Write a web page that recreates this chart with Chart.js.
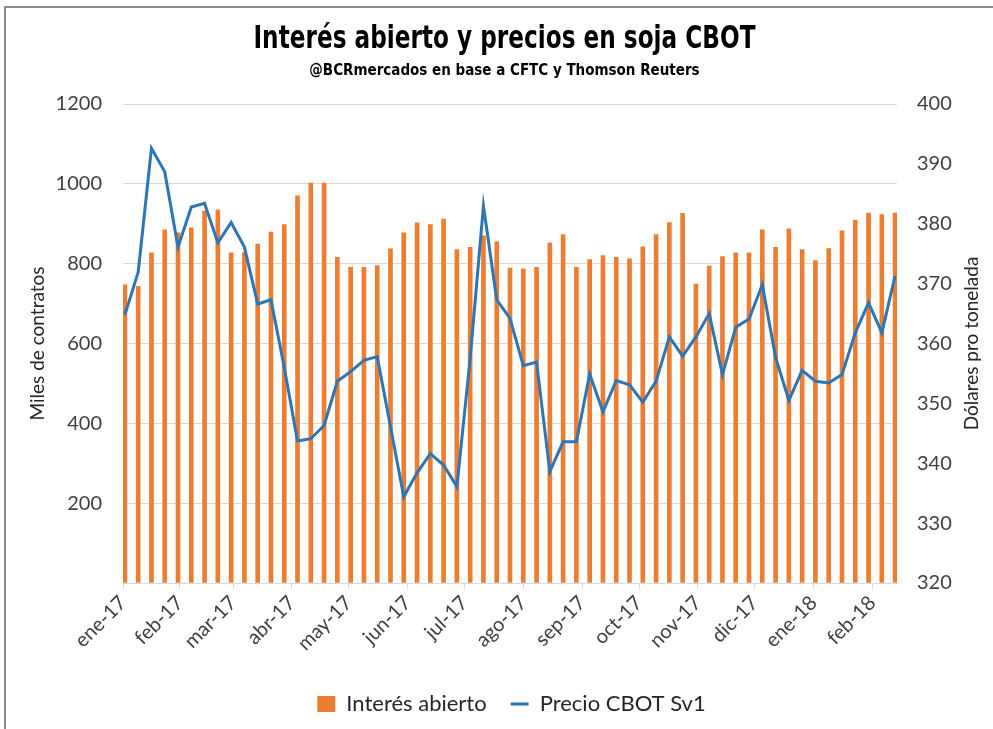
<!DOCTYPE html>
<html lang="es">
<head>
<meta charset="utf-8">
<title>Interés abierto y precios en soja CBOT</title>
<script src="https://cdn.jsdelivr.net/npm/chart.js@4.4.1/dist/chart.umd.min.js"></script>
<style>
  html, body { margin: 0; padding: 0; background: #fff; }
  #marco { position: relative; width: 993px; height: 729px; overflow: hidden; }
  #borde { position: absolute; left: 4px; top: 6px; right: -10px; bottom: -10px;
           border-left: 2px solid #8c8c8c; border-top: 2px solid #8c8c8c; pointer-events: none; }
  canvas { position: absolute; left: 0; top: 0; }
</style>
</head>
<body>
<div id="marco">
  <canvas id="grafico" width="993" height="729"></canvas>
  <div id="borde"></div>
</div>
<script>
// Fechas semanales (martes, informe CFTC)
const fechas = [
  '2017-01-03', '2017-01-10', '2017-01-17', '2017-01-24', '2017-01-31',
  '2017-02-07', '2017-02-14', '2017-02-21', '2017-02-28',
  '2017-03-07', '2017-03-14', '2017-03-21', '2017-03-28',
  '2017-04-04', '2017-04-11', '2017-04-18', '2017-04-25',
  '2017-05-02', '2017-05-09', '2017-05-16', '2017-05-23', '2017-05-30',
  '2017-06-06', '2017-06-13', '2017-06-20', '2017-06-27',
  '2017-07-04', '2017-07-11', '2017-07-18', '2017-07-25',
  '2017-08-01', '2017-08-08', '2017-08-15', '2017-08-22', '2017-08-29',
  '2017-09-05', '2017-09-12', '2017-09-19', '2017-09-26',
  '2017-10-03', '2017-10-10', '2017-10-17', '2017-10-24', '2017-10-31',
  '2017-11-07', '2017-11-14', '2017-11-21', '2017-11-28',
  '2017-12-05', '2017-12-12', '2017-12-19', '2017-12-26',
  '2018-01-02', '2018-01-09', '2018-01-16', '2018-01-23', '2018-01-30',
  '2018-02-06', '2018-02-13'
];

// Interés abierto (miles de contratos)
const interesAbierto = [
  747, 743, 827, 885, 877,
  890, 932, 934, 827,
  828, 849, 879, 898,
  970, 1002, 1002, 816,
  791, 791, 795, 837, 877,
  902, 898, 912, 835,
  841, 870, 855, 789,
  787, 791, 852, 873, 791,
  810, 820, 816, 812,
  842, 873, 903, 926, 749,
  794, 818, 827, 827,
  885, 841, 887, 835,
  808, 838, 882, 909, 927,
  923, 927
];

// Precio CBOT Sv1 (dólares por tonelada)
const precioCBOT = [
  364.8, 371.9, 392.6, 388.7, 376.1,
  382.8, 383.4, 376.8, 380.2,
  376.1, 366.6, 367.3, 356.0,
  343.7, 344.1, 346.3, 353.7,
  355.3, 357.2, 357.8, 346.1, 334.4,
  338.4, 341.6, 339.7, 336.1,
  357.5, 383.0, 367.3, 364.2,
  356.3, 356.9, 338.6, 343.6, 343.6,
  354.9, 348.6, 353.8, 353.1,
  350.2, 353.7, 361.1, 357.9, 361.1,
  365.0, 354.8, 362.7, 364.1,
  369.8, 357.7, 350.5, 355.5,
  353.7, 353.4, 354.8, 361.8, 366.8,
  361.8, 371.3
];

// Marcas del eje de fechas
const inicioMeses = [
  '2017-01-01', '2017-02-01', '2017-03-01', '2017-04-01', '2017-05-01', '2017-06-01', '2017-07-01',
  '2017-08-01', '2017-09-01', '2017-10-01', '2017-11-01', '2017-12-01', '2018-01-01', '2018-02-01'
];
const etiquetasMeses = [
  'ene-17', 'feb-17', 'mar-17', 'abr-17', 'may-17', 'jun-17', 'jul-17',
  'ago-17', 'sep-17', 'oct-17', 'nov-17', 'dic-17', 'ene-18', 'feb-18'
];

const TITULO = 'Interés abierto y precios en soja CBOT';
const SUBTITULO = '@BCRmercados en base a CFTC y Thomson Reuters';

const ORIGEN = Date.UTC(2017, 0, 1);
function dia(f) {
  return (Date.parse(f + 'T00:00:00Z') - ORIGEN) / 86400000;
}

const xMin = dia(fechas[0]) - 1;
const xMax = dia(fechas[fechas.length - 1]) + 1;
const posMeses = inicioMeses.map(m => Math.max(dia(m), xMin));

const NARANJA = '#ED7D31';
const AZUL = '#2E75B6';
const GRILLA = '#D9D9D9';
const TEXTO = '#404040';

Chart.defaults.font.family = "Lato, 'Open Sans', sans-serif";
Chart.defaults.color = TEXTO;

// texto angosto y grueso, comprimido al ancho que tiene en el original
function textoAngosto(ctx, texto, x, y, size, ancho) {
  ctx.save();
  ctx.font = 'bold ' + size + "px 'DejaVu Sans Condensed', 'DejaVu Sans', sans-serif";
  if ('fontStretch' in ctx) ctx.fontStretch = 'condensed';
  const w = ctx.measureText(texto).width;
  const k = Math.min(1, ancho / w);
  ctx.translate(x, y);
  ctx.scale(k, 1);
  ctx.fillStyle = '#000';
  ctx.textAlign = 'center';
  ctx.textBaseline = 'alphabetic';
  ctx.fillText(texto, 0, 0);
  ctx.restore();
}

// titulos arriba y titulo del eje derecho (leido de abajo hacia arriba como en Excel)
const textosExtra = {
  id: 'textosExtra',
  afterDraw(chart) {
    const ctx = chart.ctx;
    const area = chart.chartArea;
    const centro = chart.width / 2 + 8;
    textoAngosto(ctx, TITULO, centro, 48, 32, 502);
    textoAngosto(ctx, SUBTITULO, centro, 75, 15, 396);

    const eje = chart.scales.y1;
    ctx.save();
    ctx.translate(eje.right - 21, (area.top + area.bottom) / 2);
    ctx.rotate(-Math.PI / 2);
    ctx.font = '19px Lato';
    ctx.fillStyle = '#262626';
    ctx.textAlign = 'center';
    ctx.textBaseline = 'middle';
    ctx.fillText('Dólares pro tonelada', 0, 0);
    ctx.restore();
  }
};

const ctx = document.getElementById('grafico').getContext('2d');
new Chart(ctx, {
  type: 'bar',
  data: {
    datasets: [
      {
        type: 'bar',
        label: 'Interés abierto',
        data: fechas.map((f, i) => ({ x: dia(f), y: interesAbierto[i] })),
        backgroundColor: NARANJA,
        borderWidth: 0,
        barThickness: 4,
        yAxisID: 'y',
        order: 2,
        pointStyle: 'rect'
      },
      {
        type: 'line',
        label: 'Precio CBOT Sv1',
        data: fechas.map((f, i) => ({ x: dia(f), y: precioCBOT[i] })),
        borderColor: AZUL,
        backgroundColor: AZUL,
        borderWidth: 3,
        pointRadius: 0,
        tension: 0,
        yAxisID: 'y1',
        order: 1,
        pointStyle: 'line'
      }
    ]
  },
  options: {
    responsive: false,
    animation: false,
    devicePixelRatio: 1,
    layout: { padding: { top: 104, left: 30, right: 0, bottom: 4 } },
    plugins: {
      title: { display: false },
      legend: {
        position: 'bottom',
        labels: {
          usePointStyle: true,
          pointStyleWidth: 18,
          boxHeight: 16,
          padding: 24,
          color: '#262626',
          font: { size: 22 },
          sort: (a, b) => a.datasetIndex - b.datasetIndex
        }
      },
      tooltip: { enabled: false }
    },
    scales: {
      x: {
        type: 'linear',
        offset: false,
        min: xMin,
        max: xMax,
        afterBuildTicks: (eje) => { eje.ticks = posMeses.map(v => ({ value: v })); },
        afterFit: (eje) => { eje.height = 86; },
        ticks: {
          autoSkip: false,
          minRotation: 45,
          maxRotation: 45,
          padding: 2,
          font: { size: 20 },
          callback: (v, i) => etiquetasMeses[i]
        },
        grid: { offset: false, drawOnChartArea: false, drawTicks: true, tickLength: 6, color: GRILLA },
        border: { color: GRILLA }
      },
      y: {
        position: 'left',
        min: 0,
        max: 1200,
        afterFit: (eje) => { eje.width = 93; },
        ticks: {
          stepSize: 200,
          padding: 21,
          font: { size: 20 },
          callback: (v) => (v === 0 ? '' : v)
        },
        grid: { color: GRILLA, drawTicks: false },
        border: { display: false },
        title: {
          display: true,
          text: 'Miles de contratos',
          color: '#262626',
          font: { size: 19 },
          padding: { top: -4, bottom: 0 }
        }
      },
      y1: {
        position: 'right',
        min: 320,
        max: 400,
        afterFit: (eje) => { eje.width = 96; },
        ticks: { stepSize: 10, padding: 20, font: { size: 20 } },
        grid: { drawOnChartArea: false, drawTicks: false },
        border: { display: false }
      }
    }
  },
  plugins: [textosExtra]
});
</script>
</body>
</html>
